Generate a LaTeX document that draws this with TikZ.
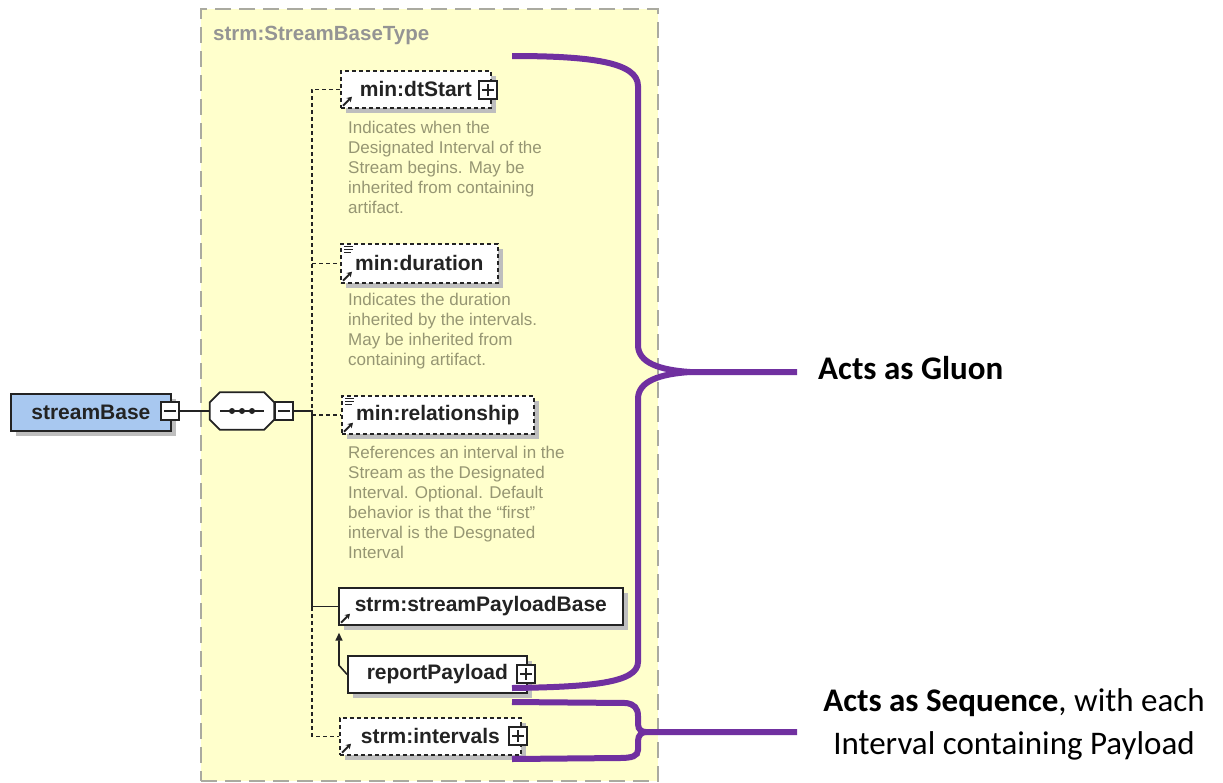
\documentclass[tikz,border=0pt]{standalone}
\usepackage{fontspec}
\setmainfont{Liberation Sans}
\newfontfamily\calfont{Carlito}
\usetikzlibrary{shadows,arrows.meta,calc}
\definecolor{ylw}{RGB}{255,255,204}
\definecolor{ybord}{RGB}{170,170,160}
\definecolor{desctext}{RGB}{150,150,115}
\definecolor{lblue}{RGB}{168,200,240}
\definecolor{bracecol}{RGB}{112,48,160}
\definecolor{shadcol}{RGB}{190,190,190}
\definecolor{ink}{RGB}{35,35,35}
\begin{document}
\begin{tikzpicture}[x=1pt,y=-1pt,
  shad/.style={general shadow={fill=shadcol, shadow xshift=5pt, shadow yshift=-5pt}},
  elem/.style={draw=ink, fill=white, line width=1.7pt, minimum height=37, inner sep=0,
    anchor=north west, font=\fontsize{21}{24}\selectfont\bfseries, text=ink, shad},
  optelem/.style={elem, dash pattern=on 4pt off 3pt},
  pmbox/.style={draw=ink, fill=white, line width=1.4pt, minimum size=18, inner sep=0},
  minusbox/.style={pmbox, path picture={\draw[line width=1.4pt]
    ([xshift=3pt]path picture bounding box.west) -- ([xshift=-3pt]path picture bounding box.east);}},
  plusbox/.style={pmbox, path picture={\draw[line width=1.4pt]
    ([xshift=3pt]path picture bounding box.west) -- ([xshift=-3pt]path picture bounding box.east)
    ([yshift=-3pt]path picture bounding box.north) -- ([yshift=3pt]path picture bounding box.south);}},
  desc/.style={anchor=north west, align=left, inner sep=0, text=desctext,
    font=\fontsize{17}{20}\selectfont},
  conn/.style={draw=ink, line width=1.6pt},
  dconn/.style={conn, dash pattern=on 4pt off 3pt},
  icon/.style={line width=2pt, -{Stealth[length=5pt,width=6pt]}},
  brace/.style={draw=bracecol, line width=6pt},
  annot/.style={inner sep=0, font=\calfont\fontsize{33}{43}\selectfont},
]
\useasboundingbox (0,0) rectangle (1223,782);
\fill[white] (0,0) rectangle (1223,782);

% type container
\node[draw=ybord, fill=ylw, line width=2pt, dash pattern=on 16pt off 8pt,
  minimum width=457, minimum height=772, anchor=north west, inner sep=0] (sbt) at (200,8) {};
\node[anchor=north west, inner sep=0, text=black!42, font=\fontsize{20.5}{24}\selectfont\bfseries]
  (sbtlabel) at (213,26) {strm:StreamBaseType};

% root element
\node[draw=ink, fill=lblue, line width=1.8pt, minimum width=160, minimum height=37,
  anchor=north west, inner sep=0, font=\fontsize{21}{24}\selectfont\bfseries, text=ink, shad]
  (sb) at (10,393) {streamBase\hspace{12pt}};
\node[minusbox] (sbm) at (170,411) {};

% sequence compositor
\node[minimum width=64, minimum height=37, inner sep=0] (seq) at (242,411) {};
\fill[shadcol, shift={(5pt,-5pt)}] ([xshift=10pt]seq.north west) -- ([xshift=-10pt]seq.north east)
  -- ([yshift=-10pt]seq.north east) -- ([yshift=10pt]seq.south east) -- ([xshift=-10pt]seq.south east)
  -- ([xshift=10pt]seq.south west) -- ([yshift=10pt]seq.south west) -- ([yshift=-10pt]seq.north west) -- cycle;
\draw[fill=white, draw=ink, line width=1.7pt] ([xshift=10pt]seq.north west) -- ([xshift=-10pt]seq.north east)
  -- ([yshift=-10pt]seq.north east) -- ([yshift=10pt]seq.south east) -- ([xshift=-10pt]seq.south east)
  -- ([xshift=10pt]seq.south west) -- ([yshift=10pt]seq.south west) -- ([yshift=-10pt]seq.north west) -- cycle;
\draw[line width=1.6pt, ink] ([xshift=-22pt]seq.center) -- ([xshift=22pt]seq.center);
\foreach \dx in {-10,0,10} \fill[ink] ([xshift=\dx pt]seq.center) circle (3);
\node[minusbox] (seqm) at (284,411) {};

% elements
\node[optelem, minimum width=150] (dt) at (340,70) {min:dtStart\hspace{14pt}};
\node[plusbox] (dtp) at (488,90) {};
\node[desc] (dtd) at (348,121) {Indicates when the\\Designated Interval of the\\Stream begins. May be\\inherited from containing\\artifact.};

\node[optelem, minimum width=157, minimum height=39] (du) at (340,243) {min:duration};
\node[desc] (dud) at (348,293) {Indicates the duration\\inherited by the intervals.\\May be inherited from\\containing artifact.};

\node[optelem, minimum width=192, minimum height=38] (rel) at (341,395) {min:relationship};
\node[desc] (reld) at (348,446) {References an interval in the\\Stream as the Designated\\Interval. Optional. Default\\behavior is that the ``first''\\interval is the Desgnated\\Interval};

\node[elem, minimum width=284] (spb) at (338,587) {strm:streamPayloadBase};
\node[elem, minimum width=179] (rp) at (347,655) {reportPayload\hspace{16pt}};
\node[plusbox] (rpp) at (526,674) {};
\node[optelem, minimum width=181] (iv) at (339,717) {strm:intervals\hspace{12pt}};
\node[plusbox] (ivp) at (518,736) {};

% icons
\foreach \n in {dt,du,rel,spb,iv}
  \draw[icon, ink] ([shift={(3pt,3pt)}]\n.south west) -- ++(9pt,9pt);
\foreach \n in {du,rel} {
  \draw[line width=1pt, ink] ([shift={(4pt,-3pt)}]\n.north west) -- ++(9pt,0pt);
  \draw[line width=1pt, ink] ([shift={(4pt,-6pt)}]\n.north west) -- ++(9pt,0pt);
  \draw[line width=1pt, ink] ([shift={(4pt,-9pt)}]\n.north west) -- ++(7pt,0pt);
}

% connectors
\coordinate (busx) at (312,0);
\draw[conn] (sbm.east) -- (seq.west);
\draw[dconn] (dt.west) -- (dt.west -| busx) -- (iv.west -| busx) -- (iv.west);
\draw[dconn] (du.west -| busx) -- (du.west);
\draw[dconn] (rel.west -| busx) -- (rel.west);
\draw[conn] (seqm.east) -- (seqm.east -| busx) -- (spb.west -| busx) -- (spb.west);
\draw[conn, -{Triangle[length=8pt,width=7pt]}, shorten >=7pt]
  (rp.west) -- ++(-8,-9) coordinate (bend) -- (bend |- spb.south);

% annotations
\node[annot, anchor=west] (gl) at (818,368) {\bfseries Acts as Gluon};
\node[annot, align=center] (sl) at (1014,724) {\textbf{Acts as Sequence}, with each\\Interval containing Payload};

% braces
\coordinate (gtip) at (690,372);
\coordinate (stip) at (646,732);
\draw[brace] (512,56) .. controls (590,56) and (638,62) .. (638,86) -- (638,345)
  .. controls (638,363) and (660,370) .. (gtip) -- ([xshift=-21pt]gl.west |- gtip);
\draw[brace] (gtip) .. controls (660,374) and (638,381) .. (638,399) -- (638,662)
  .. controls (638,683) and (590,687) .. (512,688);
\draw[brace] (512,702) -- (626,703) .. controls (634,704) and (638,708) .. (638,716) -- (638,724)
  .. controls (638,730) and (642,732) .. (stip) -- (797,732);
\draw[brace] (stip) .. controls (642,732) and (638,735) .. (638,741) -- (638,750)
  .. controls (638,756) and (632,758) .. (620,758) -- (512,759);
\end{tikzpicture}
\end{document}
